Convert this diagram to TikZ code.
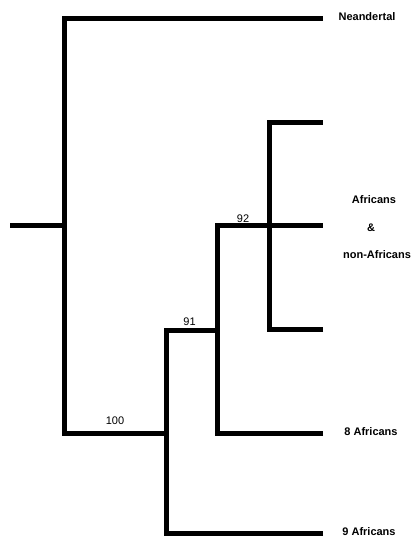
\documentclass[tikz,border=0pt]{standalone}
\usepackage{fontspec}
\setmainfont{Liberation Sans}
\usetikzlibrary{positioning,calc}
\colorlet{treeink}{black}
\tikzset{
  branch/.style={draw=treeink,line width=5pt,line join=miter},
  taxon/.style={font=\bfseries\fontsize{11}{13}\selectfont,inner sep=0pt},
  support/.style={font=\fontsize{11}{13}\selectfont,inner sep=0pt,above=4pt}
}

\begin{document}
\begin{tikzpicture}[x=1pt,y=-1pt]
\useasboundingbox (0,0) rectangle (417,537);
% internal nodes of the tree
\coordinate (root) at (10,225);
\coordinate (n0) at (64,225);
\coordinate (n100) at (166,433);
\coordinate (n91) at (217,330);
\coordinate (n92) at (269,225);
% tips
\coordinate (neand) at (323,19);
\coordinate (t1) at (323,123);
\coordinate (t2) at (323,225);
\coordinate (t3) at (323,329);
\coordinate (af8) at (323,433);
\coordinate (af9) at (323,533);
% branches
\draw[branch] (root) -- (n0);
\draw[branch] (neand) -| (n0) |- (n100);
\draw[branch] (af9) -| (n100) |- (n91);
\draw[branch] (af8) -| (n91) |- (n92);
\draw[branch] (t3) -| (n92) |- (t1);
\draw[branch] (n92) -- (t2);
% support values
\node[support,above=8pt] (s100) at ($(n0|-n100)!0.5!(n100)$) {100};
\node[support,xshift=-2pt] (s91) at ($(n100|-n91)!0.5!(n91)$) {91};
\node[support,above=2pt] (s92) at ($(n91|-n92)!0.5!(n92)$) {92};
% taxon labels
\node[taxon] (lneand) at (367,17) {Neandertal};
\node[taxon] (lafr) at (374,200) {Africans};
\node[taxon] (lamp) at (371,228) {\&};
\node[taxon] (lnon) at (377,255) {non-Africans};
\node[taxon] (l8) at (371,432) {8 Africans};
\node[taxon] (l9) at (369,532) {9 Africans};
\end{tikzpicture}
\end{document}
